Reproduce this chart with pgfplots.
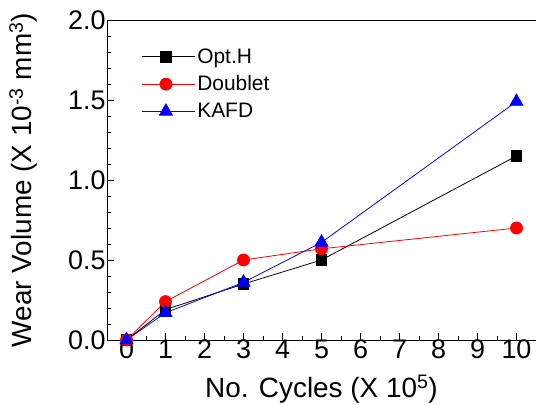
\documentclass[border=0pt]{standalone}
\usepackage{fontspec}
\setmainfont{Liberation Sans}
\usepackage{pgfplots}
\pgfplotsset{compat=1.18}
\begin{document}
\begin{tikzpicture}
\begin{axis}[
  name=main,
  scale only axis,
  width=429bp, height=320bp,
  xmin=-0.5, xmax=10.5,
  ymin=0, ymax=2.0,
  axis x line*=box,
  axis y line*=left,
  tick pos=left,
  tick align=inside,
  xtick={0,1,...,10},
  minor x tick num=1,
  ytick={0,0.5,1.0,1.5,2.0},
  minor y tick num=4,
  major tick length=7bp,
  minor tick length=4bp,
  every tick/.style={black, line width=0.8pt},
  axis line style={black, line width=0.9pt},
  /pgf/number format/assume math mode=true,
  yticklabel style={/pgf/number format/fixed, /pgf/number format/fixed zerofill, /pgf/number format/precision=1, xshift=2bp},
  tick label style={font=\fontsize{27}{27}\selectfont},
  xticklabel style={yshift=4bp},
  label style={font=\fontsize{28}{28}\selectfont},
  xlabel={No. Cycles (X 10\textsuperscript{5})},
  ylabel={Wear Volume (X 10\textsuperscript{-3} mm\textsuperscript{3})},
  xlabel style={at={(axis description cs:0.5,-0.181)}, anchor=base},
  ylabel style={at={(axis description cs:-0.195,0.5)}, anchor=center, rotate=0},
  legend cell align=left,
  legend style={at={(0.08,0.917)}, anchor=north west, draw=none, fill=none,
    font=\fontsize{21}{21}\selectfont, inner sep=0pt, row sep=7bp},
  legend image code/.code={\draw[mark repeat=2, mark phase=2] plot coordinates {(0bp,0bp) (24bp,0bp) (48bp,0bp)}; \path (0bp,0bp) -- (53bp,0bp);},
]
\addplot[black, line width=0.8pt, mark=square*, mark size=5.2bp] coordinates {(0,0) (1,0.19) (3,0.35) (5,0.50) (10,1.15)};
\addlegendentry{Opt.H}
\addplot[red, line width=0.8pt, mark=*, mark size=6bp] coordinates {(0,0) (1,0.24) (3,0.50) (5,0.57) (10,0.70)};
\addlegendentry{Doublet}
\addplot[blue, line width=0.8pt, mark=triangle*, mark size=7.5bp] coordinates {(0,0) (1,0.17) (3,0.36) (5,0.61) (10,1.49)};
\addlegendentry{KAFD}
\end{axis}
\pgfresetboundingbox
\useasboundingbox ([xshift=-107bp,yshift=-65bp]main.south west) rectangle ([yshift=20bp]main.north east);
\end{tikzpicture}
\end{document}
